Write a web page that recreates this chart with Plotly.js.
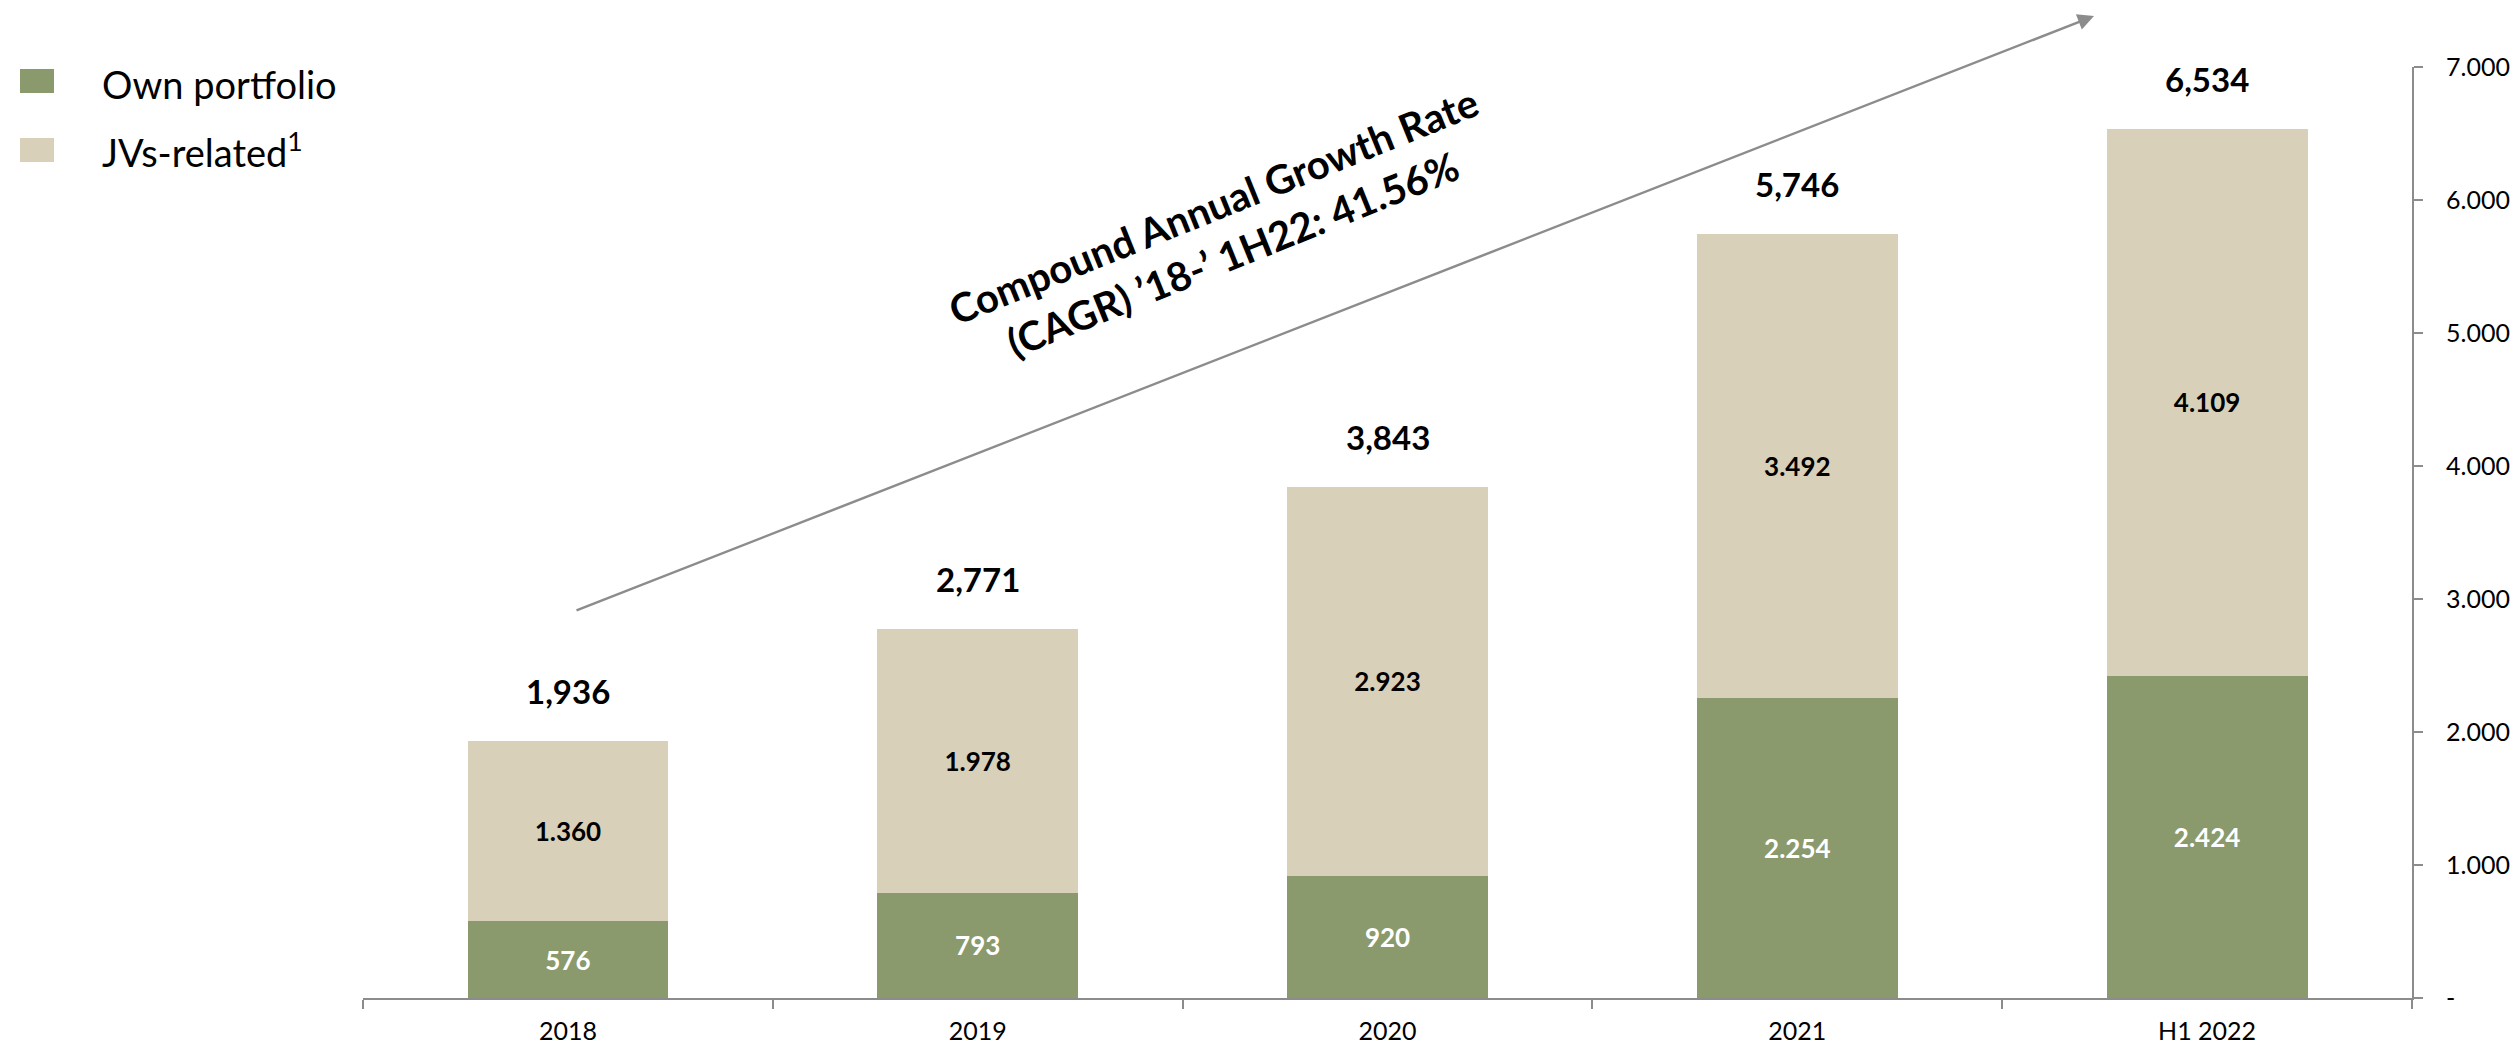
<!DOCTYPE html>
<html>
<head>
<meta charset="utf-8">
<script src="https://cdn.plot.ly/plotly-3.0.1.min.js"></script>
<style>html,body{margin:0;padding:0;background:#fff;}#chart{width:2520px;height:1051px;}</style>
</head>
<body>
<div id="chart"></div>
<script>
// ---- data ----
const categories = ["2018", "2019", "2020", "2021", "H1 2022"];
const ownPortfolio = [576, 793, 920, 2254, 2424];
const jvsRelated = [1360, 1978, 2923, 3492, 4109];
const totals = [1936, 2771, 3843, 5746, 6534];
const yTickValues = [0, 1000, 2000, 3000, 4000, 5000, 6000, 7000];
const yTickLabels = ["-", "1.000", "2.000", "3.000", "4.000", "5.000", "6.000", "7.000"];
const seriesNames = ["Own portfolio", "JVs-related<sup>1</sup>"];
const cagrText = "Compound Annual Growth Rate<br>(CAGR) \u201918-\u2019 1H22: 41.56%";

// ---- style ----
const FONT = "Lato, Carlito, Calibri, 'Open Sans', sans-serif";
const GREEN = "#8A9A6D";
const BEIGE = "#D8D0B8";
const GRAY = "#8C8C8C";
const W = 2520, H = 1051;
const M = {l: 363, r: 108, t: 67, b: 53};
const PW = W - M.l - M.r, PH = H - M.t - M.b;
const px2x = p => (p - M.l) / PW;
const py2y = p => (H - M.b - p) / PH;

const traces = [
  {
    type: "bar", name: seriesNames[0], x: categories, y: ownPortfolio,
    marker: {color: GREEN},
    texttemplate: "%{y:,}", textposition: "inside", insidetextanchor: "middle",
    textangle: 0, constraintext: "none",
    textfont: {family: FONT, size: 26, color: "#ffffff", weight: "bold"},
    hoverinfo: "skip"
  },
  {
    type: "bar", name: seriesNames[1], x: categories, y: jvsRelated,
    marker: {color: BEIGE},
    texttemplate: "%{y:,}", textposition: "inside", insidetextanchor: "middle",
    textangle: 0, constraintext: "none",
    textfont: {family: FONT, size: 26, color: "#000000", weight: "bold"},
    hoverinfo: "skip"
  }
];

const annotations = [];
categories.forEach((c, i) => {
  annotations.push({
    x: i, y: totals[i], xref: "x", yref: "y",
    text: "<b>" + totals[i].toLocaleString("en-US") + "</b>",
    showarrow: false, yanchor: "bottom", yshift: 28,
    font: {family: FONT, size: 33, color: "#000"}
  });
});
// growth arrow
annotations.push({
  x: px2x(2094), y: py2y(16), xref: "paper", yref: "paper",
  text: "", showarrow: true, ax: 575 - 2094, ay: 611 - 16,
  arrowhead: 2, arrowsize: 1.3, arrowwidth: 2.5, arrowcolor: GRAY
});
// CAGR text
annotations.push({
  x: px2x(1223), y: py2y(230), xref: "paper", yref: "paper",
  text: "<b>" + cagrText + "</b>", showarrow: false, textangle: -22,
  xanchor: "center", yanchor: "middle", align: "center",
  font: {family: FONT, size: 40, color: "#000"}
});
// custom legend
const shapes = [];
const legendRows = [{y0: 69, y1: 93, cy: 84, color: GREEN}, {y0: 138, y1: 162, cy: 150, color: BEIGE}];
legendRows.forEach((r, i) => {
  shapes.push({
    type: "rect", xref: "paper", yref: "paper",
    x0: px2x(20), x1: px2x(54), y0: py2y(r.y1), y1: py2y(r.y0),
    fillcolor: r.color, line: {width: 0}
  });
  annotations.push({
    x: px2x(100), y: py2y(r.cy), xref: "paper", yref: "paper",
    text: seriesNames[i], showarrow: false, xanchor: "left", yanchor: "middle",
    font: {family: FONT, size: 38, color: "#000"}
  });
});

const layout = {
  width: W, height: H,
  margin: M,
  paper_bgcolor: "#fff", plot_bgcolor: "#fff",
  barmode: "stack", bargap: 0.51,
  separators: ",.",
  showlegend: false,
  font: {family: FONT, color: "#000"},
  xaxis: {
    type: "category", range: [-0.5, 4.5],
    showline: true, linecolor: GRAY, linewidth: 2,
    ticks: "outside", tickson: "boundaries", ticklen: 9, tickcolor: GRAY, tickwidth: 2,
    ticklabelstandoff: 10,
    showgrid: false, zeroline: false,
    tickfont: {family: FONT, size: 25, color: "#000"}
  },
  yaxis: {
    side: "right", range: [0, 7000],
    tickvals: yTickValues, ticktext: yTickLabels,
    showline: true, linecolor: GRAY, linewidth: 2,
    ticks: "outside", ticklen: 9, tickcolor: GRAY, tickwidth: 2,
    ticklabelstandoff: 18,
    showgrid: false, zeroline: false,
    tickfont: {family: FONT, size: 25, color: "#000"}
  },
  annotations: annotations,
  shapes: shapes
};

Plotly.newPlot("chart", traces, layout, {staticPlot: true, displayModeBar: false});
</script>
</body>
</html>
